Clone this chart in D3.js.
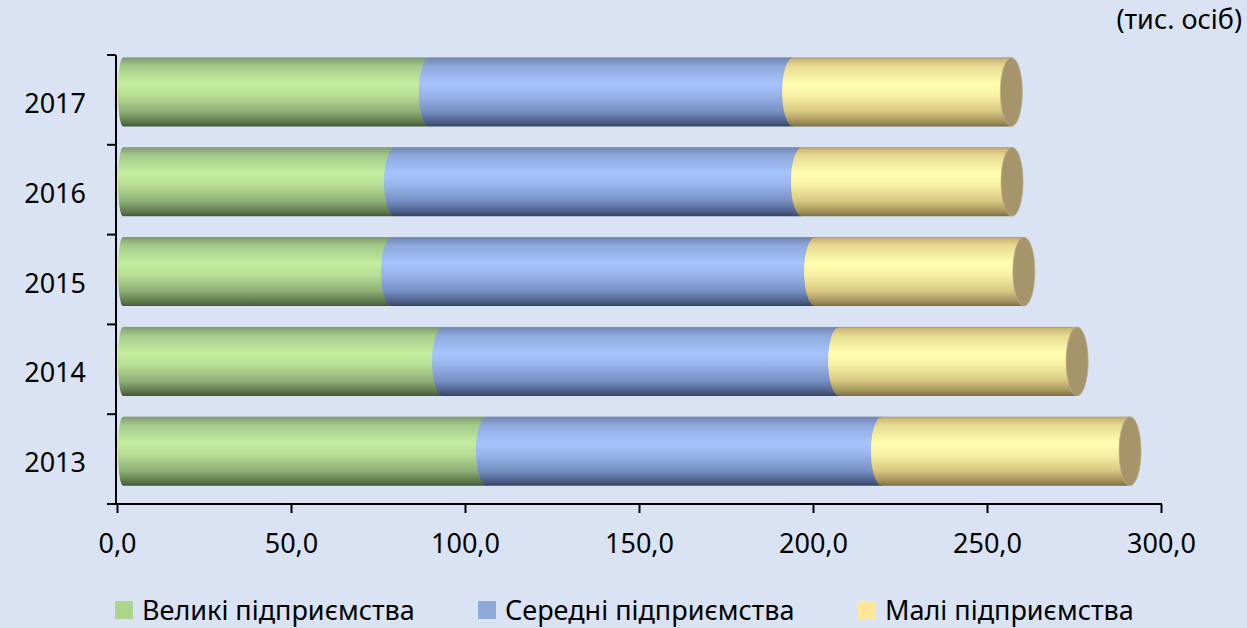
<!DOCTYPE html>
<html>
<head>
<meta charset="utf-8">
<script src="https://cdn.jsdelivr.net/npm/d3@7"></script>
<style>
  body { margin: 0; background: #dae3f3; }
  svg { display: block; font-family: "Noto Sans", "Open Sans", sans-serif; }
</style>
</head>
<body>
<div id="chart"></div>
<script>
// data (thousand persons)
const years = ["2017", "2016", "2015", "2014", "2013"];
const seriesNames = ["Великі підприємства", "Середні підприємства", "Малі підприємства"];
const large = [89.9, 79.9, 79.0, 93.7, 106.3];
const medium = [104.4, 116.9, 121.6, 113.8, 113.5];
const small = [62.7, 60.4, 60.0, 68.4, 71.3];
const xTicks = [0, 50, 100, 150, 200, 250, 300];

const width = 1247, height = 628;
const margin = { top: 55, left: 117, right: 86, bottom: 124 };

const svg = d3.select("#chart").append("svg")
  .attr("width", width)
  .attr("height", height);

svg.append("rect").attr("width", width).attr("height", height).attr("fill", "#dae3f3");

// gradients for cylinder look
const gradDefs = [
  { id: "g-large", stops: ["#7f9a6b", "#a4c98b", "#c3ee9f", "#b6de95", "#8fb078", "#5b7647", "#45573a"] },
  { id: "g-medium", stops: ["#6d82b0", "#8ea8dc", "#a6c4fc", "#98b4ea", "#7790c4", "#4b5d86", "#37435f"] },
  { id: "g-small", stops: ["#c2ae6c", "#e8d891", "#ffffb0", "#f8f0a4", "#d9c882", "#9e8e58", "#7b6e44"] }
];
const offs = [0, 0.12, 0.38, 0.55, 0.78, 0.94, 1];
const defs = svg.append("defs");
gradDefs.forEach(g => {
  const lg = defs.append("linearGradient").attr("id", g.id)
    .attr("x1", 0).attr("y1", 0).attr("x2", 0).attr("y2", 1);
  g.stops.forEach((c, i) => lg.append("stop").attr("offset", offs[i]).attr("stop-color", c));
});
const fills = ["url(#g-large)", "url(#g-medium)", "url(#g-small)"];
const legendColors = ["#acd48c", "#8eaadb", "#ffe699"];

const x = d3.scaleLinear().domain([0, 300]).range([margin.left, width - margin.right]);
const y = d3.scaleBand().domain(years).range([margin.top, height - margin.bottom]);

const table = years.map((yr, i) => ({ year: yr, values: [large[i], medium[i], small[i]] }));

const barH = 69, barOff = 2.5, rx = 11;

const bars = svg.append("g").selectAll("g")
  .data(table)
  .join("g");

bars.each(function (d) {
  const g = d3.select(this);
  const top = y(d.year) + barOff, bot = top + barH, ry = barH / 2, cy = top + ry;
  let cum = 0;
  d.values.forEach((v, k) => {
    const a = x(cum), b = x(cum + v);
    const r = k === 0 ? 5 : rx;
    const ax = k === 0 ? a + 6 : a;
    const p = `M${ax},${top} L${b},${top} L${b},${bot} L${ax},${bot} A${r},${ry} 0 0 1 ${ax},${top} Z`;
    g.append("path").attr("d", p).attr("fill", fills[k]);
    cum += v;
  });
  // top edge line
  g.append("line")
    .attr("x1", x(0) + 6).attr("x2", x(cum))
    .attr("y1", top + 0.5).attr("y2", top + 0.5)
    .attr("stroke", "#8c95a8").attr("stroke-opacity", 0.6).attr("stroke-width", 1);
  // end cap
  g.append("ellipse")
    .attr("cx", x(cum)).attr("cy", cy)
    .attr("rx", rx).attr("ry", ry)
    .attr("fill", "#a6946a")
    .attr("stroke", "#bcae80").attr("stroke-width", 0.8);
});

// axes
const axisG = svg.append("g");
const x0 = x(0) - 1, yBottom = y.range()[1];
// y axis line and ticks at band boundaries
axisG.append("line")
  .attr("x1", x0).attr("x2", x0)
  .attr("y1", y.range()[0]).attr("y2", yBottom)
  .attr("stroke", "#000").attr("stroke-width", 2);
const bounds = years.map(yr => y(yr));
axisG.selectAll(".ytick").data(bounds)
  .join("line")
  .attr("x1", x0 - 9).attr("x2", x0)
  .attr("y1", d => d).attr("y2", d => d)
  .attr("stroke", "#000").attr("stroke-width", 2);

axisG.selectAll(".ylab").data(years)
  .join("text")
  .attr("x", 86)
  .attr("y", d => y(d) + y.bandwidth() / 2 + 13)
  .attr("text-anchor", "end")
  .attr("font-size", 27)
  .attr("fill", "#000")
  .text(d => d);

const fmt = d => d3.format(".1f")(d).replace(".", ",");
const xAxis = svg.append("g")
  .attr("transform", `translate(0,${yBottom})`)
  .call(d3.axisBottom(x).tickValues(xTicks).tickSize(9).tickPadding(21).tickFormat(fmt));
xAxis.select(".domain").remove();
xAxis.selectAll("line").attr("stroke", "#000").attr("stroke-width", 2);
xAxis.selectAll("text").attr("font-size", 27).attr("fill", "#000").attr("font-family", "Noto Sans");
xAxis.append("line")
  .attr("x1", x0 - 9).attr("x2", x(300) + 1)
  .attr("stroke", "#000").attr("stroke-width", 2);

// unit label
svg.append("text")
  .attr("x", 1242).attr("y", 29)
  .attr("text-anchor", "end")
  .attr("font-size", 27)
  .attr("fill", "#000")
  .text("(тис. осіб)");

// legend
const legendX = [115, 478, 858];
const legend = svg.append("g").selectAll("g")
  .data(seriesNames)
  .join("g")
  .attr("transform", (d, i) => `translate(${legendX[i]},601)`);
legend.append("rect")
  .attr("width", 18).attr("height", 18)
  .attr("fill", (d, i) => legendColors[i]);
legend.append("text")
  .attr("x", 27).attr("y", 19)
  .attr("font-size", 27)
  .attr("fill", "#000")
  .text(d => d);
</script>
</body>
</html>
